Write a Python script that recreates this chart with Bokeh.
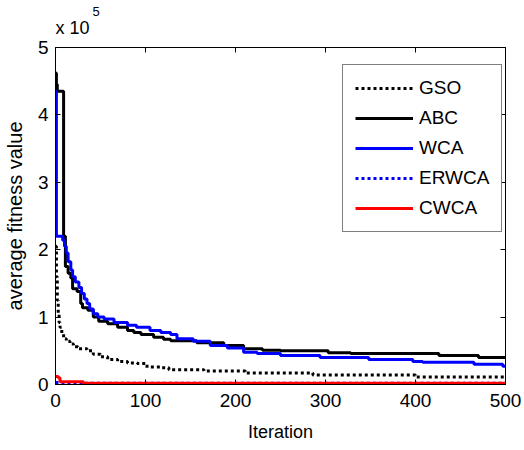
from bokeh.plotting import figure
from bokeh.models import Range1d, LinearAxis, Legend, LegendItem, Title, FixedTicker
from bokeh.embed import file_html
from bokeh.resources import INLINE

# ---- data (values in units of 1e5) ----
gso_iter = [0, 1, 2, 3, 4, 5, 7, 9, 12, 16, 20, 25, 35, 42, 50, 58, 69, 80, 91, 100, 105,
            117, 126, 165, 211, 286, 400, 500]
gso_val = [2.05, 1.6, 1.25, 1.05, 0.92, 0.85, 0.75, 0.68, 0.64, 0.6, 0.56, 0.53, 0.5, 0.45,
           0.41, 0.37, 0.34, 0.32, 0.31, 0.27, 0.26, 0.25, 0.22, 0.2, 0.17, 0.14, 0.11, 0.11]

abc_iter = [0, 1, 2, 9, 11, 14, 17, 19, 24, 28, 30, 36, 42, 48, 58, 69, 80, 87, 95, 109,
            120, 128, 157, 187, 209, 230, 250, 303, 328, 426, 470, 500]
abc_val = [4.62, 4.45, 4.35, 2.2, 1.75, 1.65, 1.58, 1.42, 1.38, 1.2, 1.14, 1.1, 1.0, 0.94,
           0.9, 0.85, 0.8, 0.77, 0.74, 0.7, 0.67, 0.65, 0.62, 0.58, 0.53, 0.51, 0.5, 0.47,
           0.46, 0.43, 0.4, 0.4]

wca_iter = [0, 1, 8, 10, 12, 14, 17, 19, 22, 26, 29, 32, 35, 38, 42, 47, 54, 65, 80, 90,
            105, 117, 128, 135, 153, 172, 191, 209, 224, 250, 294, 348, 397, 408, 465, 497, 500]
wca_val = [4.35, 2.2, 2.14, 2.05, 1.95, 1.82, 1.7, 1.6, 1.52, 1.44, 1.35, 1.27, 1.2, 1.12,
           1.05, 1.0, 0.97, 0.92, 0.88, 0.85, 0.8, 0.77, 0.74, 0.68, 0.64, 0.58, 0.54, 0.48,
           0.46, 0.43, 0.4, 0.37, 0.34, 0.33, 0.3, 0.27, 0.27]

erwca_iter = [0, 31, 500]
erwca_val = [0.03, 0.02, 0.02]

cwca_iter = [0, 3, 5, 31, 500]
cwca_val = [0.12, 0.1, 0.04, 0.02, 0.02]

x_ticks = [0, 100, 200, 300, 400, 500]
y_ticks = [0, 1, 2, 3, 4, 5]

FONT = "Liberation Sans"

p = figure(width=524, height=450, output_backend="svg", toolbar_location=None,
           x_range=Range1d(0, 500), y_range=Range1d(0, 5),
           min_border_left=55, min_border_right=19, min_border_top=47, min_border_bottom=66,
           background_fill_color="white", border_fill_color="white")

# exponent (outermost title row)
p.title.text = "5"
p.title.align = "left"
p.title.offset = 37
p.title.text_font = FONT
p.title.text_font_size = "13px"
p.title.text_font_style = "normal"
p.title.text_color = "black"
p.title.standoff = -20

p.xgrid.visible = False
p.ygrid.visible = False
p.outline_line_color = "black"
p.outline_line_width = 1

for ax in (p.xaxis[0], p.yaxis[0]):
    ax.major_tick_in = 5
    ax.major_tick_out = 0
    ax.minor_tick_line_color = None
    ax.axis_line_color = "black"
    ax.major_tick_line_color = "black"
    ax.major_label_text_font = FONT
    ax.major_label_text_font_size = "19px"
    ax.major_label_text_color = "black"
    ax.axis_label_text_font = FONT
    ax.axis_label_text_font_style = "normal"
    ax.axis_label_text_color = "black"

p.xaxis.ticker = FixedTicker(ticks=x_ticks)
p.yaxis.ticker = FixedTicker(ticks=y_ticks)
p.xaxis.axis_label = "Iteration"
p.xaxis.axis_label_text_font_size = "18px"
p.xaxis.major_label_standoff = 9
p.xaxis.axis_label_standoff = 12
p.yaxis.axis_label = "average fitness value"
p.yaxis.axis_label_text_font_size = "20px"
p.yaxis.major_label_standoff = 7
p.yaxis.axis_label_standoff = 9

top_ax = LinearAxis(ticker=FixedTicker(ticks=x_ticks), major_label_text_font_size="0px",
                    major_tick_in=5, major_tick_out=0, minor_tick_line_color=None,
                    major_label_standoff=0, axis_line_color="black")
right_ax = LinearAxis(ticker=FixedTicker(ticks=y_ticks), major_label_text_font_size="0px",
                      major_tick_in=5, major_tick_out=0, minor_tick_line_color=None,
                      major_label_standoff=0, axis_line_color="black")
p.add_layout(top_ax, "above")
p.add_layout(right_ax, "right")
# multiplier base (row nearest the frame)
p.add_layout(Title(text="x 10", align="left", offset=0, text_font=FONT, text_font_size="18px",
                   text_font_style="normal", text_color="black", standoff=20), "above")

r_gso = p.step(gso_iter, gso_val, mode="after", line_color="black", line_width=3,
               line_dash="3 3")
r_abc = p.step(abc_iter, abc_val, mode="after", line_color="black", line_width=3)
r_wca = p.step(wca_iter, wca_val, mode="after", line_color="#0000ff", line_width=3)
r_erwca = p.step(erwca_iter, erwca_val, mode="after", line_color="#0000ff", line_width=3,
                 line_dash="3 3")
r_cwca = p.step(cwca_iter, cwca_val, mode="after", line_color="#ff0000", line_width=3)

legend = Legend(items=[LegendItem(label="GSO", renderers=[r_gso]),
                       LegendItem(label="ABC", renderers=[r_abc]),
                       LegendItem(label="WCA", renderers=[r_wca]),
                       LegendItem(label="ERWCA", renderers=[r_erwca]),
                       LegendItem(label="CWCA", renderers=[r_cwca])],
                location=(287, 152), border_line_color="black", border_line_width=1,
                background_fill_color="white", background_fill_alpha=1,
                label_text_font=FONT, label_text_font_size="19px", label_text_color="black",
                glyph_width=58, glyph_height=20, label_height=20, spacing=8, padding=12,
                label_standoff=6, margin=0)
p.add_layout(legend)

open("out.html", "w").write(file_html(p, INLINE))
